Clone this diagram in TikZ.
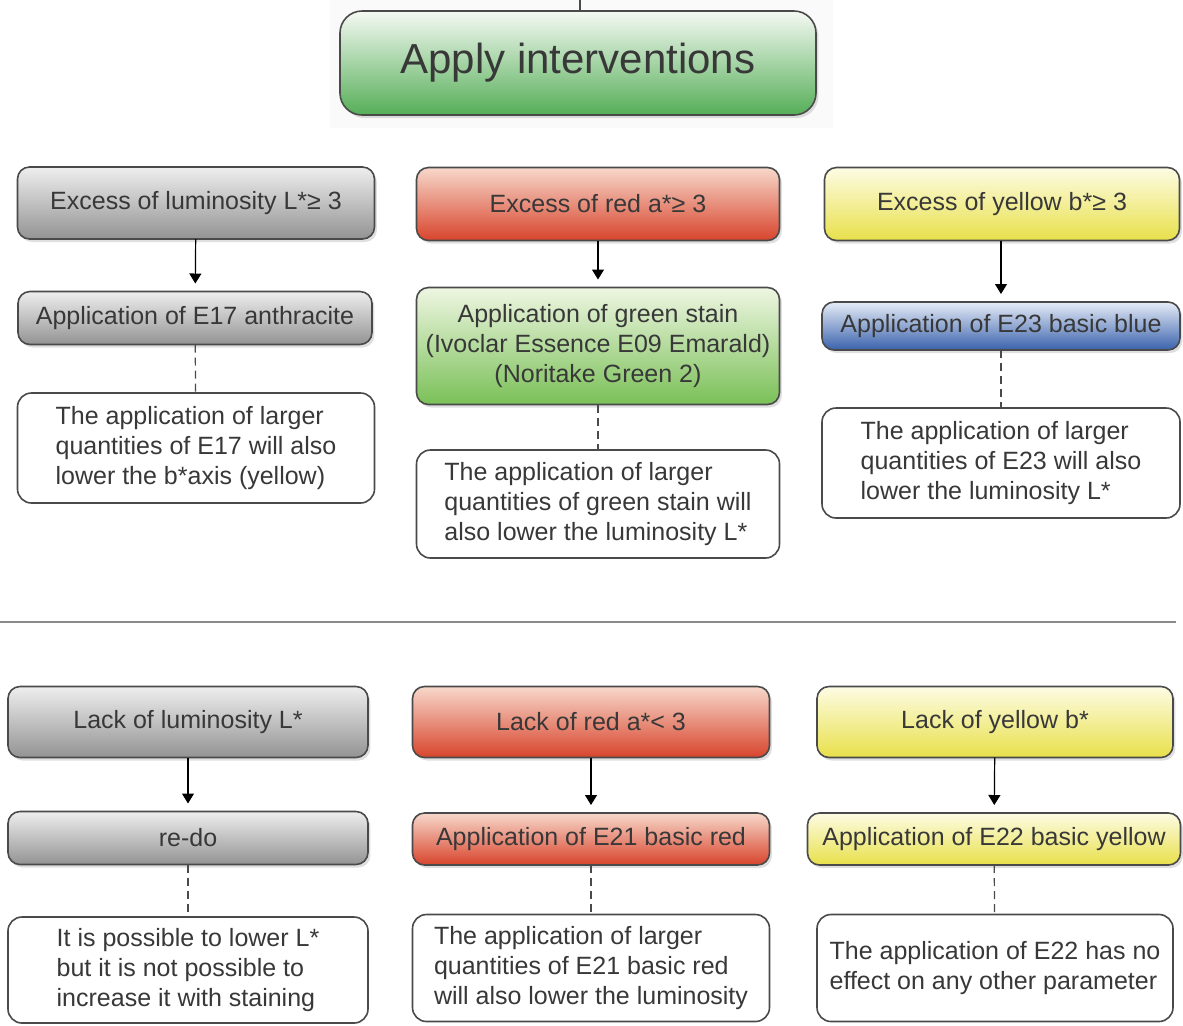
\documentclass[tikz,border=0pt]{standalone}
\usepackage{fontspec}
\setmainfont{Liberation Sans}
\usetikzlibrary{arrows.meta,shadows}
\definecolor{stainInk}{HTML}{383838}
\definecolor{stainEdge}{HTML}{4A4A4A}
\definecolor{stainRule}{HTML}{8A8A8A}
\definecolor{grayTop}{HTML}{EEEEEE}
\definecolor{grayMid}{HTML}{BDBDBD}
\definecolor{grayBot}{HTML}{939393}
\definecolor{redTop}{HTML}{F7D8CB}
\definecolor{redMid}{HTML}{E5725A}
\definecolor{redBot}{HTML}{D8442C}
\definecolor{yellowTop}{HTML}{FDFCE4}
\definecolor{yellowMid}{HTML}{F4EE8A}
\definecolor{yellowBot}{HTML}{E8E04A}
\definecolor{greenTop}{HTML}{EFF6E2}
\definecolor{greenMid}{HTML}{B2DA96}
\definecolor{greenBot}{HTML}{79C057}
\definecolor{blueTop}{HTML}{E6ECF7}
\definecolor{blueMid}{HTML}{7F9BD0}
\definecolor{blueBot}{HTML}{3A62AC}
\definecolor{applyTop}{HTML}{F5F9F3}
\definecolor{applyBot}{HTML}{55AE57}
\tikzset{
  stain diagram/.style={
    line width=0.6pt,
    >={Triangle[length=5pt,width=6pt]},
    every node/.style={font=\fontsize{12.5}{15}\selectfont,
      text=stainInk, inner sep=2pt, outer sep=0pt}
  },
  stain box/.style={draw=stainEdge, line width=0.8pt, rounded corners=6pt,
    align=center, drop shadow={opacity=0.25,shadow xshift=1.2pt,shadow yshift=-1.5pt}},
  gray box/.style={stain box, top color=grayTop, middle color=grayMid, bottom color=grayBot},
  red box/.style={stain box, top color=redTop, middle color=redMid, bottom color=redBot},
  yellow box/.style={stain box, top color=yellowTop, middle color=yellowMid, bottom color=yellowBot},
  green box/.style={stain box, top color=greenTop, middle color=greenMid, bottom color=greenBot},
  blue box/.style={stain box, top color=blueTop, middle color=blueMid, bottom color=blueBot},
  stain note/.style={draw=stainEdge, line width=0.8pt, rounded corners=7pt,
    fill=white, align=left},
  stain arrow/.style={->, shorten >=4pt},
  stain link/.style={draw=stainEdge, dashed, dash pattern=on 4pt off 2.5pt}
}
\begin{document}
\begin{tikzpicture}[stain diagram,x=0.5pt,y=-0.5pt]
    \useasboundingbox (0,0) rectangle (1183,1025);
    \fill[black!2] (330,0) rectangle (833,128);
    \coordinate (feed) at (580,0);
    \node[stain box, top color=applyTop, bottom color=applyBot, rounded corners=11pt,
      minimum width=238pt, minimum height=52pt,
      font=\fontsize{21}{24}\selectfont] (apply) at (578,63) {Apply interventions};
    \draw[stainEdge] (feed) -- (feed |- apply.north);

    \node[gray box, minimum width=178.5pt, minimum height=36pt] (excessL) at (196,203) {Excess of luminosity L*≥ 3};
    \node[gray box, minimum width=177pt, minimum height=26.5pt] (applyE17) at (195,318) {Application of E17 anthracite};
    \node[stain note, minimum width=178.5pt, minimum height=55pt] (noteE17) at (196,448)
      {The application of larger\\quantities of E17 will also\\lower the b*axis (yellow)};
    \draw[stain arrow] (excessL) -- (applyE17);
    \draw[stain link] (applyE17) -- (noteE17);

    \node[red box, minimum width=181.5pt, minimum height=36.5pt] (excessA) at (598,204) {Excess of red a*≥ 3};
    \node[green box, minimum width=181.5pt, minimum height=58.5pt] (applyGreen) at (598,346)
      {Application of green stain\\(Ivoclar Essence E09 Emarald)\\(Noritake Green 2)};
    \node[stain note, minimum width=181.5pt, minimum height=54pt] (noteGreen) at (598,504)
      {The application of larger\\quantities of green stain will\\also lower the luminosity L*};
    \draw[stain arrow] (excessA) -- (applyGreen);
    \draw[stain link] (applyGreen) -- (noteGreen);

    \node[yellow box, minimum width=177.5pt, minimum height=36.5pt] (excessB) at (1002,204) {Excess of yellow b*≥ 3};
    \node[blue box, minimum width=179pt, minimum height=24pt] (applyE23) at (1001,326) {Application of E23 basic blue};
    \node[stain note, minimum width=179pt, minimum height=55pt] (noteE23) at (1001,463)
      {The application of larger\\quantities of E23 will also\\lower the luminosity L*};
    \draw[stain arrow] (excessB.south -| applyE23) -- (applyE23);
    \draw[stain link] (applyE23) -- (noteE23);

    \coordinate (ruleW) at (0,622);
    \coordinate (ruleE) at (1176,622);
    \draw[stainRule, line width=1pt] (ruleW) -- (ruleE);

    \node[gray box, minimum width=180pt, minimum height=35.5pt] (lackL) at (188,722) {Lack of luminosity L*};
    \node[gray box, minimum width=180pt, minimum height=26.5pt] (redo) at (188,838) {re-do};
    \node[stain note, minimum width=180pt, minimum height=53pt] (noteRedo) at (188,970)
      {It is possible to lower L*\\but it is not possible to\\increase it with staining};
    \draw[stain arrow] (lackL) -- (redo);
    \draw[stain link] (redo) -- (noteRedo);

    \node[red box, minimum width=178.5pt, minimum height=35.5pt] (lackA) at (591,722) {Lack of red a*< 3};
    \node[red box, minimum width=178.5pt, minimum height=26pt] (applyE21) at (591,839) {Application of E21 basic red};
    \node[stain note, minimum width=178.5pt, minimum height=53.5pt] (noteE21) at (591,968)
      {The application of larger\\quantities of E21 basic red\\will also lower the luminosity};
    \draw[stain arrow] (lackA) -- (applyE21);
    \draw[stain link] (applyE21) -- (noteE21);

    \node[yellow box, minimum width=178pt, minimum height=35.5pt] (lackB) at (995,722) {Lack of yellow b*};
    \node[yellow box, minimum width=186.5pt, minimum height=26pt, inner sep=1pt] (applyE22) at (994,839) {Application of E22 basic yellow};
    \node[stain note, minimum width=178pt, minimum height=53.5pt] (noteE22) at (995,968)
      {The application of E22 has no\\effect on any other parameter};
    \draw[stain arrow] (lackB) -- (applyE22);
    \draw[stain link] (applyE22) -- (noteE22);
\end{tikzpicture}
\end{document}
